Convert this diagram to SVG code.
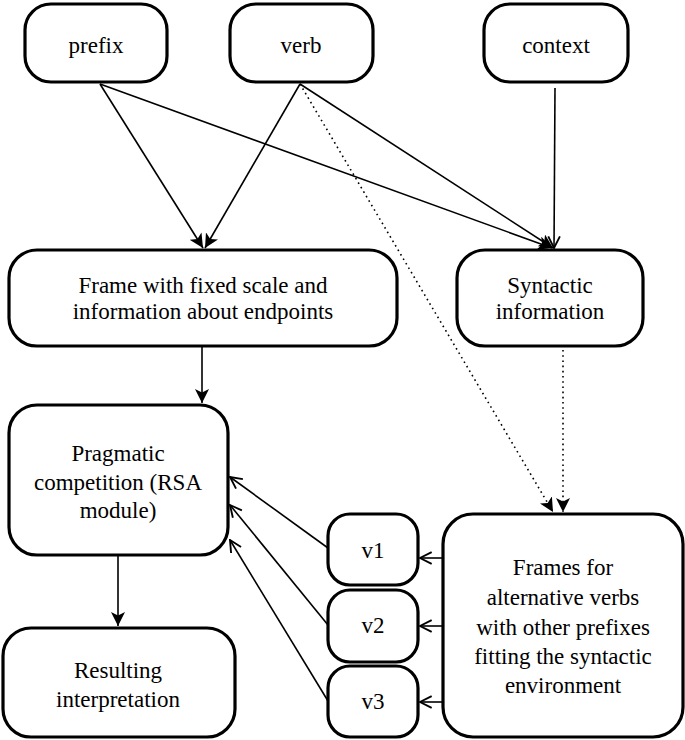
<svg xmlns="http://www.w3.org/2000/svg" width="685" height="740" viewBox="0 0 685 740">
<defs>
<marker id="af" markerUnits="userSpaceOnUse" markerWidth="14" markerHeight="14" viewBox="0 0 12 12" refX="12" refY="6" orient="auto">
<path d="M0,0 L12,6 L0,12 L3,6 z" fill="#000"/>
</marker>
<marker id="ao" markerUnits="userSpaceOnUse" markerWidth="14" markerHeight="14" viewBox="0 0 12 12" refX="11" refY="6" orient="auto">
<path d="M1,1 L11,6 L1,11" fill="none" stroke="#000" stroke-width="1.6"/>
</marker>
</defs>
<rect width="685" height="740" fill="#fff"/>
<g id="connectors" stroke="#000" stroke-width="1.6" fill="none">
<line x1="100" y1="84" x2="203" y2="248" marker-end="url(#af)"/>
<line x1="300" y1="84" x2="205" y2="248" marker-end="url(#af)"/>
<line x1="100" y1="84" x2="552" y2="248" marker-end="url(#af)"/>
<line x1="300" y1="84" x2="553" y2="248" marker-end="url(#af)"/>
<line x1="555" y1="88" x2="554" y2="248" marker-end="url(#ao)"/>
<line x1="300" y1="84" x2="553" y2="512" stroke-dasharray="1.6 3.6" marker-end="url(#af)"/>
<line x1="563" y1="350" x2="563" y2="512" stroke-dasharray="1.6 3.6" marker-end="url(#af)"/>
<line x1="202" y1="346" x2="202" y2="403" marker-end="url(#af)"/>
<line x1="118" y1="555" x2="118" y2="626" marker-end="url(#af)"/>
<line x1="328" y1="548" x2="230" y2="477" marker-end="url(#ao)"/>
<line x1="328" y1="625" x2="230" y2="505" marker-end="url(#ao)"/>
<line x1="328" y1="701" x2="230" y2="540" marker-end="url(#ao)"/>
<line x1="443" y1="558" x2="420" y2="558" marker-end="url(#ao)"/>
<line x1="443" y1="626" x2="420" y2="626" marker-end="url(#ao)"/>
<line x1="443" y1="702" x2="420" y2="702" marker-end="url(#ao)"/>
</g>
<g id="nodes" font-family="Liberation Serif" font-size="23" text-anchor="middle" fill="#000">
<g id="prefix"><rect fill="#fff" stroke="#000" stroke-width="3.2" x="25" y="4" width="142" height="78" rx="26"/><text x="96" y="53">prefix</text></g>
<g id="verb"><rect fill="#fff" stroke="#000" stroke-width="3.2" x="230" y="4" width="143" height="78" rx="26"/><text x="301" y="53">verb</text></g>
<g id="context"><rect fill="#fff" stroke="#000" stroke-width="3.2" x="484" y="4" width="144" height="78" rx="26"/><text x="556" y="53">context</text></g>
<g id="frame"><rect fill="#fff" stroke="#000" stroke-width="3.2" x="9" y="250" width="388" height="96" rx="28"/><text x="203" y="293">Frame with fixed scale and</text><text x="203" y="319">information about endpoints</text></g>
<g id="syntactic"><rect fill="#fff" stroke="#000" stroke-width="3.2" x="457" y="250" width="186" height="96" rx="28"/><text x="550" y="293">Syntactic</text><text x="550" y="319">information</text></g>
<g id="pragmatic"><rect fill="#fff" stroke="#000" stroke-width="3.2" x="9" y="405" width="219" height="150" rx="28"/><text x="118" y="461">Pragmatic</text><text x="118" y="490">competition (RSA</text><text x="118" y="518">module)</text></g>
<g id="result"><rect fill="#fff" stroke="#000" stroke-width="3.2" x="3" y="628" width="232" height="109" rx="28"/><text x="118" y="678">Resulting</text><text x="118" y="707">interpretation</text></g>
<g id="v1"><rect fill="#fff" stroke="#000" stroke-width="3.2" x="328" y="514" width="90" height="71" rx="22"/><text x="373" y="558">v1</text></g>
<g id="v2"><rect fill="#fff" stroke="#000" stroke-width="3.2" x="328" y="590" width="90" height="72" rx="22"/><text x="373" y="633">v2</text></g>
<g id="v3"><rect fill="#fff" stroke="#000" stroke-width="3.2" x="328" y="666" width="90" height="71" rx="22"/><text x="373" y="709">v3</text></g>
<g id="frames"><rect fill="#fff" stroke="#000" stroke-width="3.2" x="443" y="514" width="240" height="223" rx="30"/>
<text x="563" y="575">Frames for</text><text x="563" y="605">alternative verbs</text><text x="563" y="635">with other prefixes</text><text x="563" y="664">fitting the syntactic</text><text x="563" y="693">environment</text></g>
</g>
</svg>
